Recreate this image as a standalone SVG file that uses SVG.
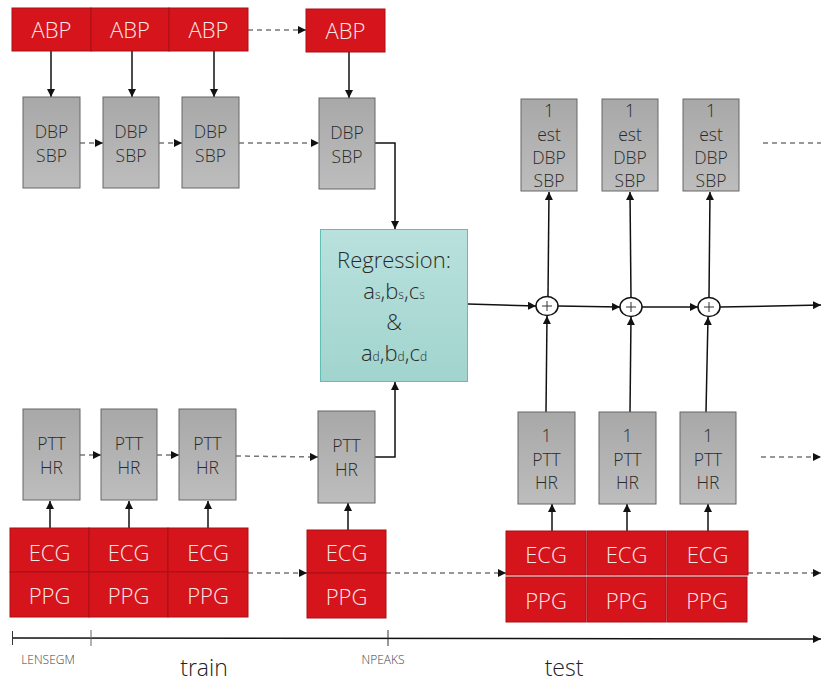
<svg xmlns="http://www.w3.org/2000/svg" width="821" height="682" viewBox="0 0 821 682">
<defs>
<linearGradient id="gg" x1="0" y1="0" x2="0" y2="1"><stop offset="0" stop-color="#a8a8a8"/><stop offset="1" stop-color="#bdbdbd"/></linearGradient>
<linearGradient id="tg" x1="0" y1="0" x2="0" y2="1"><stop offset="0" stop-color="#b9e1dd"/><stop offset="1" stop-color="#a1d4ce"/></linearGradient>
<marker id="ah" viewBox="0 0 10 10" refX="10" refY="5" markerWidth="8" markerHeight="8" markerUnits="userSpaceOnUse" orient="auto"><path d="M0,0 L10,5 L0,10 z" fill="#111"/></marker>
<style>
.red{fill:#d5141b;stroke:#a81016;stroke-width:1}
.gray{fill:url(#gg);stroke:#666;stroke-width:1}
.wt{font-family:"Open Sans","Noto Sans",sans-serif;font-weight:300;fill:#fbe9e9;text-anchor:middle;font-size:22px}
.gt{font-family:"Open Sans","Noto Sans",sans-serif;font-weight:300;fill:#2a2a2a;text-anchor:middle;font-size:17.5px}
.rt{font-family:"Open Sans","Noto Sans",sans-serif;font-weight:300;fill:#2a2a2a;text-anchor:middle;font-size:22px}
.sub{font-size:12px}
.sl{stroke:#111;stroke-width:1.5;fill:none}
.dl{stroke:#777;stroke-width:1.5;fill:none;stroke-dasharray:5,4}
.sm{font-family:"Open Sans","Noto Sans",sans-serif;font-weight:300;fill:#444;font-size:12px;text-anchor:middle}
.lg{font-family:"Open Sans","Noto Sans",sans-serif;font-weight:300;fill:#222;font-size:23px;text-anchor:middle}
</style>
</defs>

<g id="connectors">
<line class="sl" x1="51" y1="51" x2="51" y2="97" marker-end="url(#ah)"/>
<line class="sl" x1="132" y1="51" x2="132" y2="97" marker-end="url(#ah)"/>
<line class="sl" x1="214" y1="51" x2="214" y2="97" marker-end="url(#ah)"/>
<line class="sl" x1="349" y1="52" x2="349" y2="98" marker-end="url(#ah)"/>
<line class="dl" x1="248" y1="30" x2="306" y2="30" marker-end="url(#ah)"/>
<line class="dl" x1="80" y1="143" x2="103" y2="143" marker-end="url(#ah)"/>
<line class="dl" x1="159" y1="143" x2="182" y2="143" marker-end="url(#ah)"/>
<line class="dl" x1="239" y1="143" x2="319" y2="143" marker-end="url(#ah)"/>
<polyline class="sl" points="375,143 395,143 395,229" marker-end="url(#ah)"/>
<polyline class="sl" points="375,457 395,457 395,382" marker-end="url(#ah)"/>
<line class="dl" x1="80" y1="455" x2="101" y2="455" marker-end="url(#ah)"/>
<line class="dl" x1="157" y1="455" x2="179" y2="455" marker-end="url(#ah)"/>
<line class="dl" x1="236" y1="456" x2="318" y2="457" marker-end="url(#ah)"/>
<line class="sl" x1="50" y1="528" x2="50" y2="501" marker-end="url(#ah)"/>
<line class="sl" x1="129" y1="528" x2="129" y2="501" marker-end="url(#ah)"/>
<line class="sl" x1="208" y1="528" x2="208" y2="501" marker-end="url(#ah)"/>
<line class="sl" x1="348" y1="530" x2="348" y2="503" marker-end="url(#ah)"/>
<line class="dl" x1="248" y1="573" x2="307" y2="573" marker-end="url(#ah)"/>
<line class="dl" x1="386" y1="573" x2="506" y2="573" marker-end="url(#ah)"/>
<line class="dl" x1="748" y1="573" x2="821" y2="573" marker-end="url(#ah)"/>
<line class="sl" x1="552" y1="531" x2="552" y2="504" marker-end="url(#ah)"/>
<line class="sl" x1="627" y1="531" x2="627" y2="504" marker-end="url(#ah)"/>
<line class="sl" x1="708" y1="531" x2="708" y2="504" marker-end="url(#ah)"/>
<line class="sl" x1="546" y1="412" x2="547" y2="316" marker-end="url(#ah)"/>
<line class="sl" x1="630" y1="412" x2="631" y2="317" marker-end="url(#ah)"/>
<line class="sl" x1="706" y1="412" x2="708" y2="317" marker-end="url(#ah)"/>
<line class="sl" x1="548" y1="297" x2="549" y2="192" marker-end="url(#ah)"/>
<line class="sl" x1="631" y1="298" x2="630" y2="192" marker-end="url(#ah)"/>
<line class="sl" x1="709" y1="298" x2="710" y2="192" marker-end="url(#ah)"/>
<line class="sl" x1="468" y1="304" x2="536" y2="306" marker-end="url(#ah)"/>
<line class="sl" x1="558" y1="306" x2="620" y2="307" marker-end="url(#ah)"/>
<line class="sl" x1="642" y1="307" x2="698" y2="307" marker-end="url(#ah)"/>
<line class="sl" x1="720" y1="307" x2="821" y2="305" marker-end="url(#ah)"/>
<line class="dl" x1="763" y1="143" x2="821" y2="143"/>
<line class="dl" x1="761" y1="457" x2="821" y2="457" marker-end="url(#ah)"/>
</g>

<g id="abp1"><rect class="red" x="12" y="8" width="79" height="43"/><text class="wt" x="51.5" y="38">ABP</text></g>
<g id="abp2"><rect class="red" x="91" y="8" width="78" height="43"/><text class="wt" x="130" y="38">ABP</text></g>
<g id="abp3"><rect class="red" x="169" y="8" width="79" height="43"/><text class="wt" x="208.5" y="38">ABP</text></g>
<g id="abp4"><rect class="red" x="306" y="9" width="79" height="43"/><text class="wt" x="345.5" y="39">ABP</text></g>

<g id="bp1"><rect class="gray" x="23" y="97" width="57" height="91"/><text class="gt" x="51.5" y="138">DBP</text><text class="gt" x="51.5" y="162">SBP</text></g>
<g id="bp2"><rect class="gray" x="103" y="97" width="56" height="91"/><text class="gt" x="131" y="138">DBP</text><text class="gt" x="131" y="162">SBP</text></g>
<g id="bp3"><rect class="gray" x="182" y="97" width="57" height="91"/><text class="gt" x="210.5" y="138">DBP</text><text class="gt" x="210.5" y="162">SBP</text></g>
<g id="bp4"><rect class="gray" x="319" y="98" width="56" height="91"/><text class="gt" x="347" y="139">DBP</text><text class="gt" x="347" y="163">SBP</text></g>

<g id="regression"><rect x="320.5" y="229.5" width="147" height="152" fill="url(#tg)" stroke="#5fbfb5" stroke-width="1"/>
<text class="rt" x="394" y="268">Regression:</text>
<text class="rt" x="394" y="299">a<tspan class="sub">s</tspan>,b<tspan class="sub">s</tspan>,c<tspan class="sub">s</tspan></text>
<text class="rt" x="394" y="330">&amp;</text>
<text class="rt" x="394" y="361">a<tspan class="sub">d</tspan>,b<tspan class="sub">d</tspan>,c<tspan class="sub">d</tspan></text>
</g>

<g id="est1"><rect class="gray" x="521" y="99" width="56" height="92"/><text class="gt" x="549" y="117">1</text><text class="gt" x="549" y="141">est</text><text class="gt" x="549" y="164">DBP</text><text class="gt" x="549" y="187">SBP</text></g>
<g id="est2"><rect class="gray" x="602" y="99" width="56" height="92"/><text class="gt" x="630" y="117">1</text><text class="gt" x="630" y="141">est</text><text class="gt" x="630" y="164">DBP</text><text class="gt" x="630" y="187">SBP</text></g>
<g id="est3"><rect class="gray" x="683" y="99" width="56" height="92"/><text class="gt" x="711" y="117">1</text><text class="gt" x="711" y="141">est</text><text class="gt" x="711" y="164">DBP</text><text class="gt" x="711" y="187">SBP</text></g>

<g id="plus1"><ellipse cx="547" cy="306" rx="11" ry="9.5" fill="#fff" stroke="#111" stroke-width="1.5"/><path d="M542,306 H552 M547,301 V311" stroke="#333" stroke-width="1"/></g>
<g id="plus2"><ellipse cx="631" cy="307" rx="11" ry="9.5" fill="#fff" stroke="#111" stroke-width="1.5"/><path d="M626,307 H636 M631,302 V312" stroke="#333" stroke-width="1"/></g>
<g id="plus3"><ellipse cx="709" cy="307" rx="11" ry="9.5" fill="#fff" stroke="#111" stroke-width="1.5"/><path d="M704,307 H714 M709,302 V312" stroke="#333" stroke-width="1"/></g>

<g id="ptt1"><rect class="gray" x="23" y="409" width="57" height="91"/><text class="gt" x="51.5" y="450">PTT</text><text class="gt" x="51.5" y="474">HR</text></g>
<g id="ptt2"><rect class="gray" x="101" y="409" width="56" height="91"/><text class="gt" x="129" y="450">PTT</text><text class="gt" x="129" y="474">HR</text></g>
<g id="ptt3"><rect class="gray" x="179" y="409" width="57" height="91"/><text class="gt" x="207.5" y="450">PTT</text><text class="gt" x="207.5" y="474">HR</text></g>
<g id="ptt4"><rect class="gray" x="318" y="411" width="57" height="92"/><text class="gt" x="346.5" y="452">PTT</text><text class="gt" x="346.5" y="476">HR</text></g>

<g id="tptt1"><rect class="gray" x="518" y="412" width="57" height="92"/><text class="gt" x="546.5" y="442">1</text><text class="gt" x="546.5" y="466">PTT</text><text class="gt" x="546.5" y="489">HR</text></g>
<g id="tptt2"><rect class="gray" x="599" y="412" width="57" height="92"/><text class="gt" x="627.5" y="442">1</text><text class="gt" x="627.5" y="466">PTT</text><text class="gt" x="627.5" y="489">HR</text></g>
<g id="tptt3"><rect class="gray" x="680" y="412" width="56" height="92"/><text class="gt" x="708" y="442">1</text><text class="gt" x="708" y="466">PTT</text><text class="gt" x="708" y="489">HR</text></g>

<g id="sig1"><rect class="red" x="10" y="528" width="79" height="44"/><text class="wt" x="49.5" y="561">ECG</text><rect class="red" x="10" y="572" width="79" height="45"/><text class="wt" x="49.5" y="604">PPG</text></g>
<g id="sig2"><rect class="red" x="89" y="528" width="79" height="44"/><text class="wt" x="128.5" y="561">ECG</text><rect class="red" x="89" y="572" width="79" height="45"/><text class="wt" x="128.5" y="604">PPG</text></g>
<g id="sig3"><rect class="red" x="168" y="528" width="80" height="44"/><text class="wt" x="208" y="561">ECG</text><rect class="red" x="168" y="572" width="80" height="45"/><text class="wt" x="208" y="604">PPG</text></g>
<g id="sig4"><rect class="red" x="307" y="530" width="79" height="43"/><text class="wt" x="346.5" y="561">ECG</text><rect class="red" x="307" y="573" width="79" height="45"/><text class="wt" x="346.5" y="605">PPG</text></g>

<g id="tsig1"><rect class="red" x="506" y="531" width="80" height="44"/><text class="wt" x="546" y="563">ECG</text><rect class="red" x="506" y="577" width="80" height="45"/><text class="wt" x="546" y="609">PPG</text></g>
<g id="tsig2"><rect class="red" x="587" y="531" width="79" height="44"/><text class="wt" x="626.5" y="563">ECG</text><rect class="red" x="587" y="577" width="79" height="45"/><text class="wt" x="626.5" y="609">PPG</text></g>
<g id="tsig3"><rect class="red" x="667" y="531" width="81" height="44"/><text class="wt" x="707.5" y="563">ECG</text><rect class="red" x="667" y="577" width="80" height="45"/><text class="wt" x="707" y="609">PPG</text></g>

<g id="timeline">
<line class="sl" x1="12" y1="638" x2="821" y2="639" marker-end="url(#ah)"/>
<line stroke="#333" stroke-width="1" x1="12.5" y1="631" x2="12.5" y2="645"/>
<line stroke="#666" stroke-width="1" x1="91" y1="630" x2="91" y2="646"/>
<line stroke="#333" stroke-width="1" x1="388" y1="630" x2="388" y2="646"/>
<text class="sm" x="48" y="664">LENSEGM</text>
<text class="sm" x="383" y="664">NPEAKS</text>
<text class="lg" x="204" y="676">train</text>
<text class="lg" x="564" y="676">test</text>
</g>
</svg>
